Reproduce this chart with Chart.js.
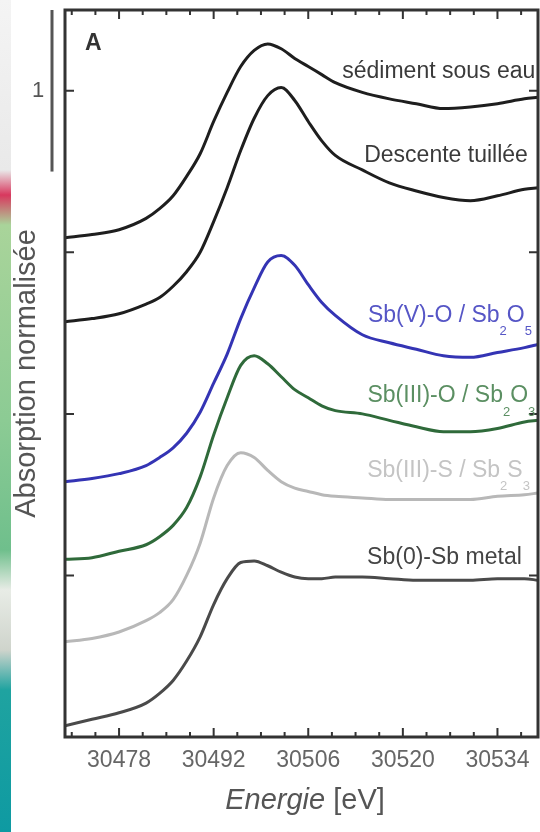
<!DOCTYPE html>
<html>
<head>
<meta charset="utf-8">
<script src="https://cdn.jsdelivr.net/npm/chart.js@4.4.1/dist/chart.umd.min.js"></script>
<style>
  body { margin: 0; background: #fff; }
  #wrap { position: relative; width: 540px; height: 832px; }
  #strip {
    position: absolute; left: 0; top: 0; width: 11px; height: 832px;
    background: linear-gradient(to bottom, #f4f4f4 0px, #e9e9e9 170px, #d8385e 195px, #a9d49a 225px,
      #8ccb94 420px, #6fbf8c 550px, #e8ece6 590px, #cfd4cc 650px, #1fa3a0 690px, #0e9aa2 832px);
  }
  canvas { position: absolute; left: 0; top: 0; }
</style>
</head>
<body>
<div id="wrap">
  <div id="strip"></div>
  <canvas id="xanes" width="540" height="832"></canvas>
</div>
<script>
// Energies (eV) et spectres normalisés, décalés verticalement
const energies = [30470, 30474, 30478, 30482, 30484, 30486, 30488, 30490, 30492, 30494, 30496, 30498, 30500,
                  30502, 30504, 30506, 30508, 30510, 30514, 30518, 30522, 30526, 30530, 30534, 30538, 30540];
const sediment  = [3.09, 3.11, 3.14, 3.21, 3.27, 3.35, 3.47, 3.61, 3.81, 3.99, 4.15, 4.25, 4.29,
                   4.26, 4.20, 4.15, 4.10, 4.05, 3.99, 3.95, 3.92, 3.89, 3.90, 3.92, 3.95, 3.96];
const descente  = [2.57, 2.59, 2.62, 2.68, 2.72, 2.79, 2.88, 3.00, 3.19, 3.40, 3.63, 3.83, 3.97,
                   4.02, 3.94, 3.81, 3.69, 3.60, 3.51, 3.43, 3.38, 3.34, 3.32, 3.35, 3.39, 3.40];
const sbV_O     = [1.58, 1.60, 1.63, 1.68, 1.73, 1.79, 1.88, 2.01, 2.19, 2.37, 2.59, 2.78, 2.94,
                   2.98, 2.92, 2.80, 2.69, 2.61, 2.49, 2.44, 2.40, 2.36, 2.35, 2.38, 2.41, 2.43];
const sbIII_O   = [1.10, 1.11, 1.15, 1.19, 1.24, 1.31, 1.42, 1.61, 1.87, 2.10, 2.30, 2.36, 2.31,
                   2.23, 2.15, 2.10, 2.05, 2.02, 2.00, 1.96, 1.92, 1.89, 1.89, 1.91, 1.95, 1.96];
const sbIII_S   = [0.59, 0.61, 0.65, 0.72, 0.77, 0.85, 1.00, 1.20, 1.48, 1.68, 1.76, 1.73, 1.65,
                   1.58, 1.54, 1.52, 1.50, 1.49, 1.48, 1.47, 1.47, 1.47, 1.47, 1.49, 1.50, 1.51];
const sb0_metal = [0.07, 0.11, 0.15, 0.21, 0.27, 0.35, 0.47, 0.62, 0.82, 0.98, 1.08, 1.09, 1.06,
                   1.02, 0.99, 0.98, 0.98, 0.99, 0.99, 0.98, 0.97, 0.97, 0.97, 0.98, 0.98, 0.97];
const xTicks = [30478, 30492, 30506, 30520, 30534];
const yTicks = [1, 2, 3, 4];

const toPts = arr => arr.map((v, i) => ({ x: energies[i], y: v }));

const series = [
    { data: sediment,  color: '#1e1e1e' },
    { data: descente,  color: '#1e1e1e' },
    { data: sbV_O,     color: '#3434b4' },
    { data: sbIII_O,   color: '#2f6a3a' },
    { data: sbIII_S,   color: '#b8b8b8' },
    { data: sb0_metal, color: '#4a4a4a' }
];

// étiquettes des courbes (position en unités des axes, alignées à droite)
const curveLabels = [
    { parts: [['sédiment sous eau']], x: 30539.6, y: 4.12, color: '#3a3a3a' },
    { parts: [['Descente tuillée']], x: 30538.5, y: 3.60, color: '#3a3a3a' },
    { parts: [['Sb(V)-O / Sb'], ['2', 1], ['O'], ['5', 1]], x: 30539.1, y: 2.61, color: '#5656c6' },
    { parts: [['Sb(III)-O / Sb'], ['2', 1], ['O'], ['3', 1]], x: 30539.6, y: 2.11, color: '#5b8f62' },
    { parts: [['Sb(III)-S / Sb'], ['2', 1], ['S'], ['3', 1]], x: 30538.8, y: 1.65, color: '#c4c4c4' },
    { parts: [['Sb(0)-Sb metal']], x: 30537.6, y: 1.11, color: '#444444' }
];

const FONT = '"Liberation Sans", Arial, sans-serif';

const decor = {
    id: 'decor',
    afterDatasetsDraw(chart) {
        const { ctx, chartArea: a, scales: { x, y } } = chart;
        ctx.save();

        // ticks vers l'intérieur
        ctx.strokeStyle = '#333';
        ctx.lineWidth = 2;
        ctx.beginPath();
        for (let e = 30471; e < 30540; e += 3.5) {
            const px = x.getPixelForValue(e);
            const len = xTicks.includes(e) ? 9 : 5;
            ctx.moveTo(px, a.bottom); ctx.lineTo(px, a.bottom - len);
            ctx.moveTo(px, a.top); ctx.lineTo(px, a.top + len);
        }
        yTicks.forEach(v => {
            const py = y.getPixelForValue(v);
            ctx.moveTo(a.left, py); ctx.lineTo(a.left + 9, py);
            ctx.moveTo(a.right, py); ctx.lineTo(a.right - 9, py);
        });
        ctx.stroke();

        // cadre
        ctx.lineWidth = 3;
        ctx.strokeRect(a.left, a.top, a.right - a.left, a.bottom - a.top);

        // étiquettes
        ctx.textBaseline = 'middle';
        curveLabels.forEach(l => {
            const widths = l.parts.map(p => {
                ctx.font = p[1] ? '13px ' + FONT : '23px ' + FONT;
                return ctx.measureText(p[0]).width;
            });
            let px = x.getPixelForValue(l.x) - widths.reduce((s, w) => s + w, 0);
            const py = y.getPixelForValue(l.y);
            ctx.fillStyle = l.color;
            l.parts.forEach((p, i) => {
                ctx.font = p[1] ? '13px ' + FONT : '23px ' + FONT;
                ctx.fillText(p[0], px, p[1] ? py + 16 : py);
                px += widths[i];
            });
        });

        // lettre du panneau
        ctx.fillStyle = '#333';
        ctx.font = 'bold 23px ' + FONT;
        ctx.fillText('A', a.left + 20, 44);

        // barre d'échelle = 1 unité
        ctx.strokeStyle = '#555';
        ctx.lineWidth = 3;
        ctx.beginPath();
        ctx.moveTo(52, y.getPixelForValue(4.5));
        ctx.lineTo(52, y.getPixelForValue(3.5));
        ctx.stroke();
        ctx.fillStyle = '#555';
        ctx.font = '22px ' + FONT;
        ctx.textAlign = 'center';
        ctx.fillText('1', 38, y.getPixelForValue(4));

        // titres des axes
        ctx.save();
        ctx.translate(27, (a.top + a.bottom) / 2);
        ctx.rotate(-Math.PI / 2);
        ctx.font = '29px ' + FONT;
        ctx.fillText('Absorption normalisée', 0, 0);
        ctx.restore();

        ctx.textAlign = 'left';
        ctx.font = 'italic 29px ' + FONT;
        const w1 = ctx.measureText('Energie').width;
        ctx.font = '29px ' + FONT;
        const w2 = ctx.measureText(' [eV]').width;
        let tx = 305 - (w1 + w2) / 2;
        ctx.font = 'italic 29px ' + FONT;
        ctx.fillText('Energie', tx, 801);
        ctx.font = '29px ' + FONT;
        ctx.fillText(' [eV]', tx + w1, 801);

        ctx.restore();
    }
};

new Chart(document.getElementById('xanes'), {
    type: 'line',
    data: {
        datasets: series.map(s => ({
            data: toPts(s.data),
            borderColor: s.color,
            borderWidth: 3,
            pointRadius: 0,
            fill: false,
            cubicInterpolationMode: 'monotone'
        }))
    },
    options: {
        responsive: false,
        animation: false,
        layout: { padding: { top: 10, right: 2, left: 0, bottom: 0 } },
        plugins: { legend: { display: false }, tooltip: { enabled: false } },
        scales: {
            x: {
                type: 'linear',
                min: 30470, max: 30540,
                afterBuildTicks: s => { s.ticks = xTicks.map(v => ({ value: v })); },
                afterFit: s => { s.height = 95; },
                grid: { display: false, drawTicks: false },
                border: { display: false },
                ticks: {
                    color: '#666', font: { size: 23, family: FONT }, padding: 10, maxRotation: 0,
                    callback: v => String(v)
                }
            },
            y: {
                min: 0, max: 4.5,
                afterBuildTicks: s => { s.ticks = yTicks.map(v => ({ value: v })); },
                afterFit: s => { s.width = 65; },
                grid: { display: false, drawTicks: false },
                border: { display: false },
                ticks: { display: false }
            }
        }
    },
    plugins: [decor]
});
</script>
</body>
</html>
